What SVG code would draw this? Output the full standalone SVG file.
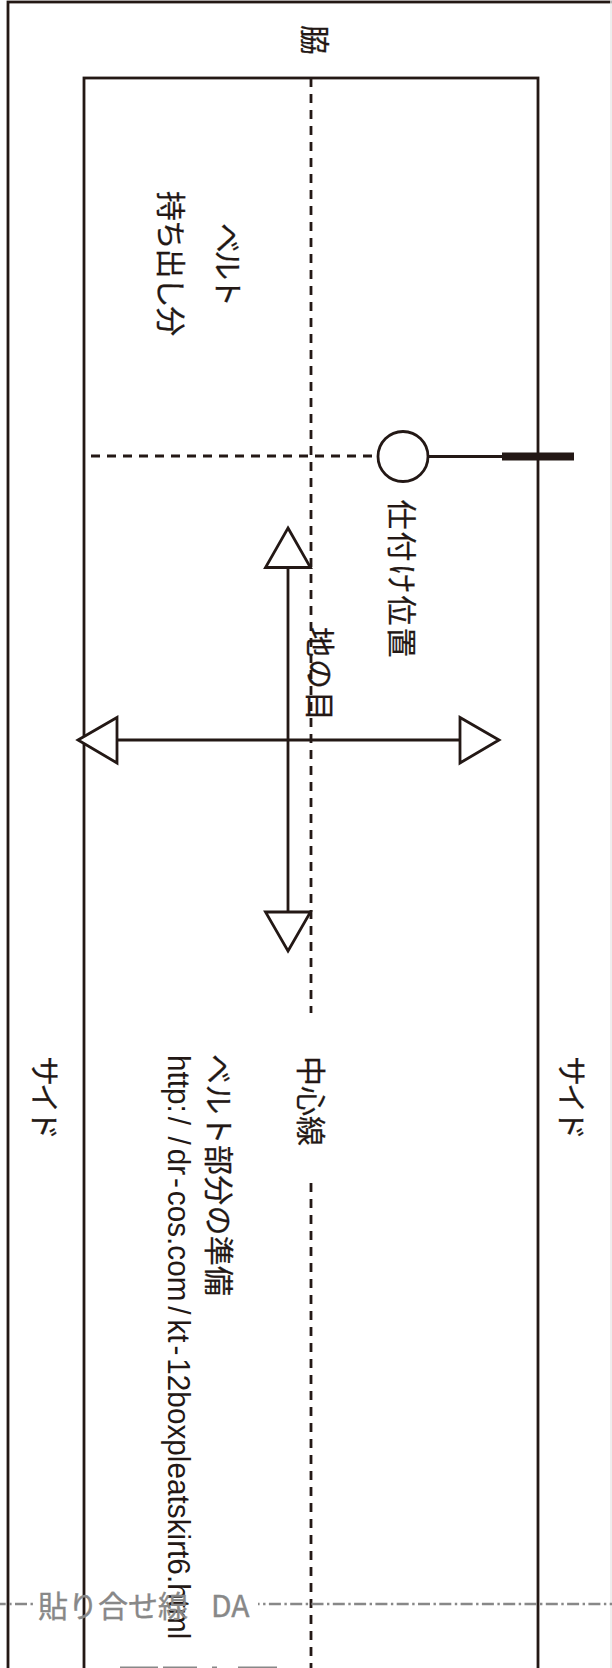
<svg xmlns="http://www.w3.org/2000/svg" width="612" height="1668" viewBox="0 0 612 1668">
<style>
.o{fill:none;stroke:#231815;stroke-width:2.8}
.f{fill:#fff;stroke:#231815;stroke-width:2.8}
.d{fill:none;stroke:#231815;stroke-width:2.8;stroke-dasharray:9 7}
.dd{fill:none;stroke:#888;stroke-width:2.500;stroke-dasharray:12 3.500 2.400 3.400}
.t{font-family:"Noto Sans CJK JP","Noto Sans",sans-serif;font-size:30px;font-weight:400;fill:#231815;stroke:#231815;stroke-width:.25}
.u{font-family:"Liberation Sans",Arial,sans-serif;font-size:31px;fill:#231815}
.g{font-family:"Noto Sans CJK JP","Noto Sans",sans-serif;font-size:30px;font-weight:400;fill:#888;stroke:#888;stroke-width:.35}
</style>
<rect width="612" height="1668" fill="#fff"/>
<g id="outer"><rect class="o" x="8" y="2" width="700" height="1760"/></g>
<path d="M611 0V1668" stroke="#e8e8e8" stroke-width="1.500"/>
<g id="inner"><rect class="o" x="84" y="78" width="454" height="1700"/></g>
<g id="connectors">
<path class="d" d="M311 78V1013"/>
<path class="d" d="M311 1183V1668"/>
<path class="d" d="M91 456H372"/>
<path class="o" d="M428 456.500H502"/>
<path d="M502 452.500H574V460.500H502Z" fill="#231815"/>
<path class="o" d="M288 567V912"/>
<path class="o" d="M117 740H459"/>
<path class="f" d="M288 528L310.500 567.500H265.500Z"/>
<path class="f" d="M288 951L310.500 912H265.500Z"/>
<path class="f" d="M78 740L117 717.500V763Z"/>
<path class="f" d="M499 740L460 717.500V763Z"/>
<path class="dd" d="M0 1604H34" stroke-dashoffset="6.300"/>
<path class="dd" d="M258 1604H612" stroke-dashoffset="10.400"/>
</g>
<g id="ring"><circle class="f" cx="403" cy="456.500" r="25"/></g>
<g id="labels">
<text class="t" transform="translate(304 25) rotate(90)">脇</text>
<text class="t" letter-spacing="-3" transform="translate(216.500 223) rotate(90)">ベルト</text>
<text class="t" letter-spacing="-1.200" transform="translate(159.500 191) rotate(90)">持ち出し分</text>
<text class="t" letter-spacing="2" transform="translate(390.500 499.500) rotate(90)">仕付け位置</text>
<text class="t" letter-spacing="2" transform="translate(308.500 627) rotate(90)">地の目</text>
<text class="t" letter-spacing="-3" transform="translate(33.500 1056) rotate(90)">サイド</text>
<text class="t" letter-spacing="-3" transform="translate(560.500 1056) rotate(90)">サイド</text>
<text class="t" transform="translate(299.500 1056) rotate(90)">中心線</text>
<text class="t" letter-spacing="0.300" transform="translate(208 1054) rotate(90)">ベルト部分の準備</text>
<text class="u" transform="translate(168 1055) rotate(90) scale(0.96 1)">http:<tspan dx="4">/</tspan><tspan dx="12">/</tspan><tspan dx="4">dr</tspan><tspan dx="3">-</tspan><tspan dx="3">cos.com</tspan><tspan dx="5">/</tspan><tspan dx="5">kt</tspan><tspan dx="3">-</tspan><tspan dx="3">12boxpleatskirt6.html</tspan></text>
<text class="g" x="38" y="1617">貼り合せ線</text>
<text class="g" x="211" y="1617">DA</text>
</g>
<g id="cut-off" fill="#888"><rect x="120" y="1666.500" width="38" height="1.500"/><rect x="163" y="1666.500" width="34" height="1.500"/><rect x="212" y="1666.500" width="5" height="1.500"/><rect x="238" y="1666.500" width="39" height="1.500"/></g>
</svg>
